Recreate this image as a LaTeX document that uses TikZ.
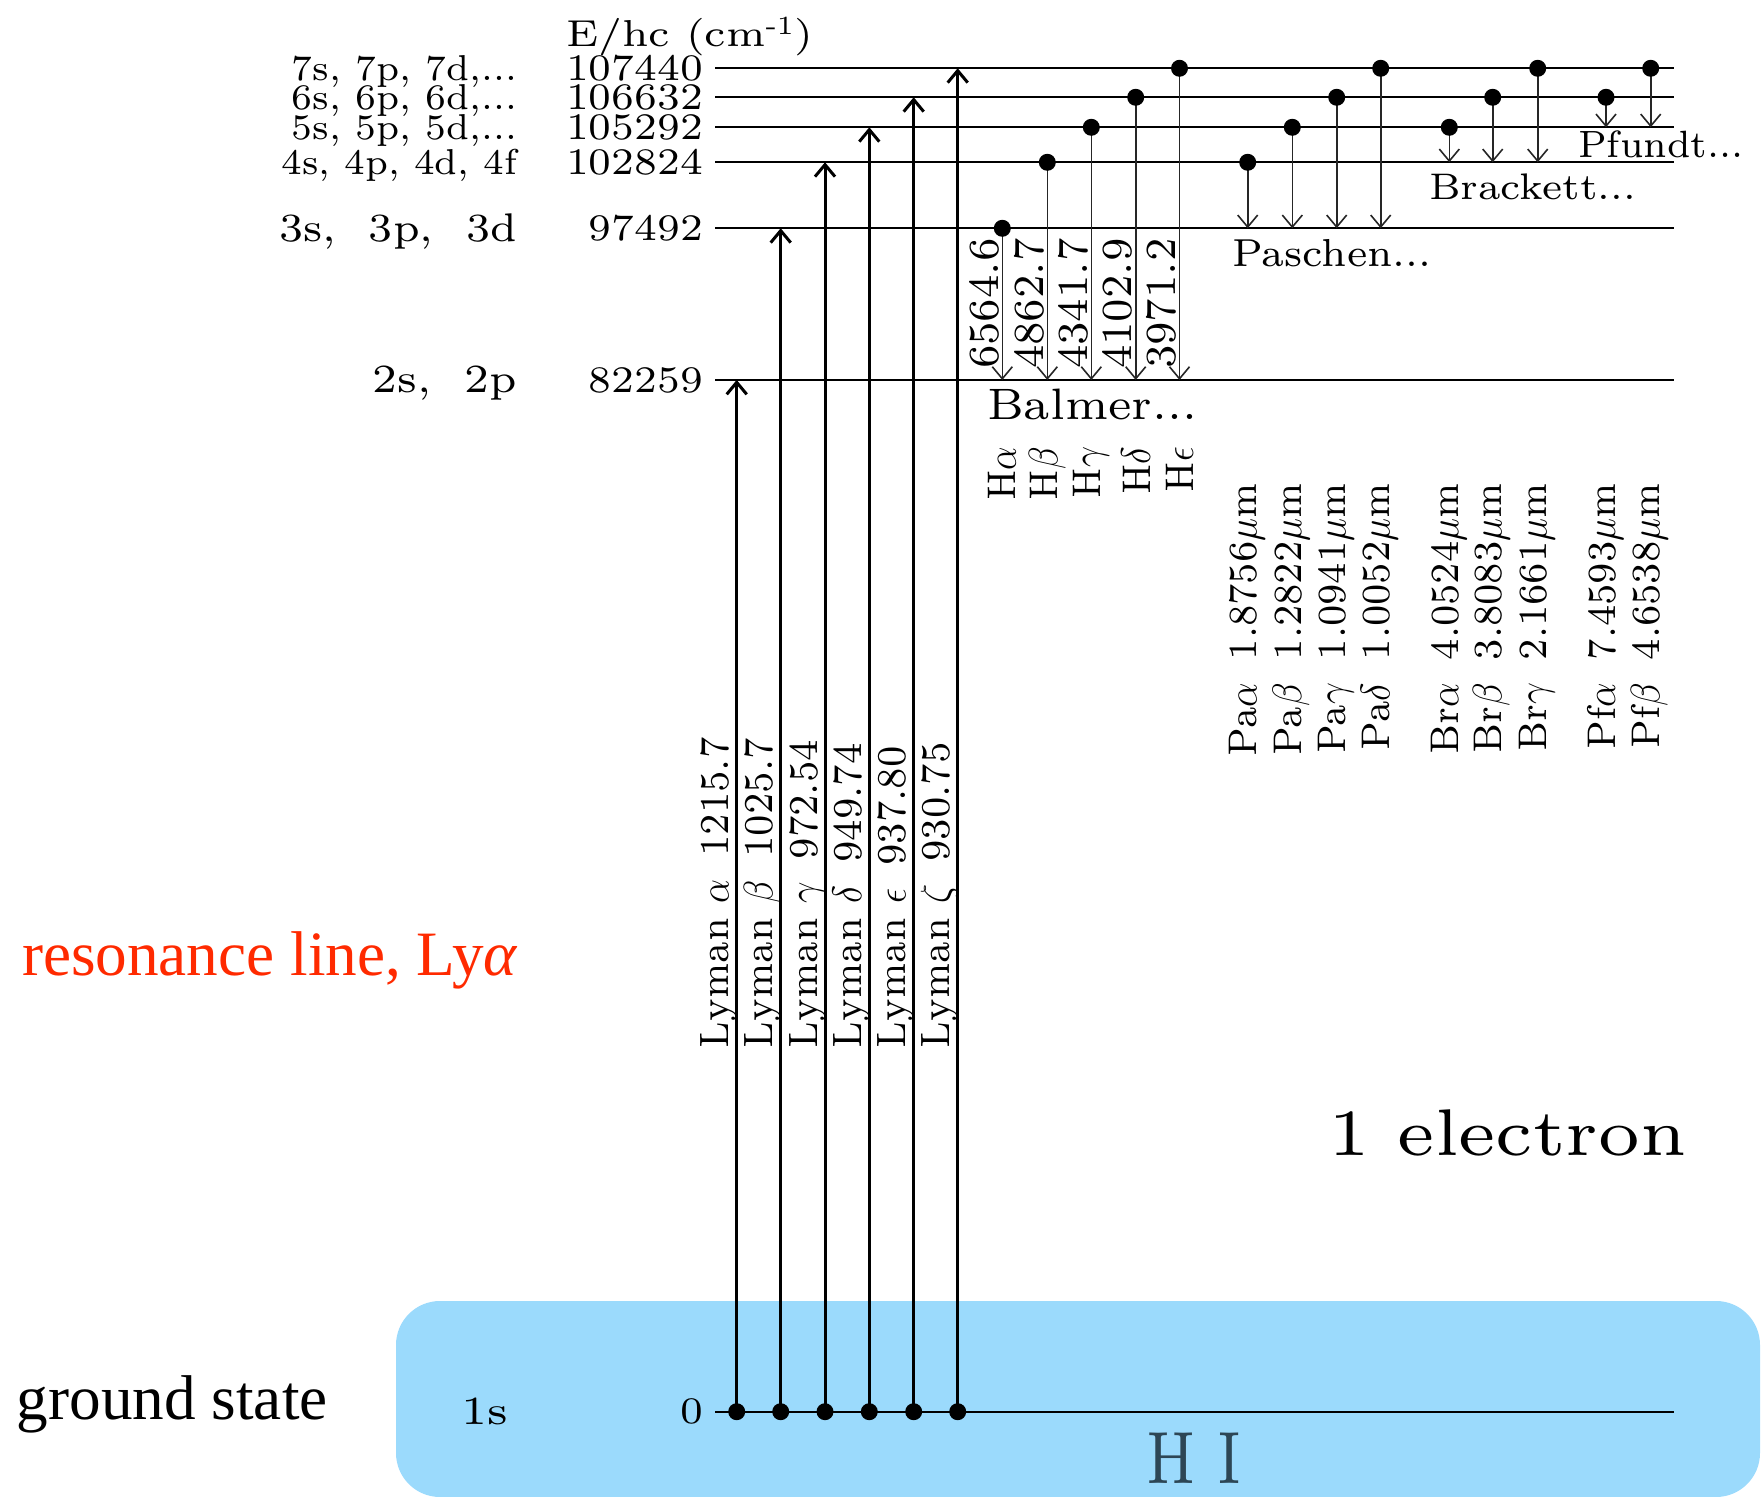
\documentclass[tikz,border=0pt]{standalone}
\usepackage{fontspec}
\usepackage{graphicx}
\usetikzlibrary{arrows.meta}
\setmainfont{lmroman7-regular.otf}
\newfontfamily\timesfont{Liberation Serif}
\newcommand\fsz[1]{\fontsize{#1}{#1}\selectfont}
\newcommand\hsc[2]{\scalebox{#1}[1]{#2}}
\definecolor{boxblue}{RGB}{155,218,252}
\definecolor{resred}{RGB}{255,42,0}
\definecolor{hicol}{RGB}{45,70,85}
\begin{document}
\begin{tikzpicture}[x=0.5pt,y=0.5pt,
  level/.style={line width=0.85pt},
  lyarrow/.style={line width=1.5pt,-{Straight Barb[length=6pt,width=10pt]}},
  thinarrow/.style={line width=0.8pt,black!85,-{Straight Barb[length=6pt,width=10pt]}},
  txt/.style={inner sep=0pt,outer sep=0pt},
  numlab/.style={txt,anchor=base east,font=\fsz{18.75}},
  cfglab/.style={txt,anchor=base east,font=\fsz{18}},
  biglab/.style={txt,anchor=base east,font=\fsz{20}},
  lylab/.style={txt,rotate=90,anchor=base west,font=\fsz{20.5}},
  balab/.style={txt,rotate=90,anchor=base west,font=\fsz{21.5}},
  hlab/.style={txt,rotate=90,anchor=east,font=\fsz{20}},
  irlab/.style={txt,rotate=90,anchor=base east,font=\fsz{20}},
  serlab/.style={txt,anchor=base west},
]
\useasboundingbox (0,0) rectangle (1763,-1497);
\fill[boxblue, rounded corners=22pt] (396,-1301) rectangle (1760,-1497);

% energy levels
\foreach \n/\y in {7/-68.3,6/-97.3,5/-127.3,4/-162.3,3/-228.3,2/-380,1/-1411.7}{
  \coordinate (L\n a) at (715,\y);
  \coordinate (L\n b) at (1674,\y);
  \draw[level] (L\n a) -- (L\n b);
}

% Lyman
\foreach \i/\x/\t in {1/736.7/-380,2/780.7/-228.3,3/825/-162.3,4/869.3/-127.3,5/913.7/-97.3,6/957.7/-68.3}{
  \coordinate (ly\i b) at (\x,-1411.7);
  \coordinate (ly\i t) at (\x,\t);
  \draw[lyarrow] (ly\i b) -- (ly\i t);
  \fill (ly\i b) circle[radius=4.25pt];
}
% Balmer, Paschen, Brackett, Pfund
\foreach \i/\x/\f/\t in {b1/1002.3/-228.3/-380,b2/1047.3/-162.3/-380,b3/1091.3/-127.3/-380,b4/1135.7/-97.3/-380,b5/1179.5/-68.3/-380,
  p1/1247.7/-162.3/-228.3,p2/1292.3/-127.3/-228.3,p3/1336.7/-97.3/-228.3,p4/1380.7/-68.3/-228.3,
  r1/1449.3/-127.3/-162.3,r2/1492.7/-97.3/-162.3,r3/1537.7/-68.3/-162.3,
  f1/1606/-97.3/-127.3,f2/1650.7/-68.3/-127.3}{
  \coordinate (\i u) at (\x,\f);
  \coordinate (\i d) at (\x,\t);
  \draw[thinarrow] (\i u) -- (\i d);
  \fill (\i u) circle[radius=4.25pt];
}

% title and level values
\node[txt,anchor=base west,font=\fsz{18.75}] (title) at (566,-46.7) {\hsc{1.12}{E/hc (cm\textsuperscript{-1})}};
\node[numlab] (n7) at (703,-80.5) {\hsc{1.07}{107440}};
\node[numlab] (n6) at (703,-109.5) {\hsc{1.07}{106632}};
\node[numlab] (n5) at (703,-139.5) {\hsc{1.07}{105292}};
\node[numlab] (n4) at (703,-174.5) {\hsc{1.07}{102824}};
\node[numlab] (n3) at (703,-240.5) {\hsc{1.07}{97492}};
\node[numlab] (n2) at (703,-392.2) {\hsc{1.07}{82259}};
\node[numlab] (n1) at (703,-1423.9) {\hsc{1.07}{0}};

% configurations
\node[cfglab] (c7) at (517,-80.5) {\hsc{1.02}{7s, 7p, 7d,...}};
\node[cfglab] (c6) at (517,-109.5) {\hsc{1.02}{6s, 6p, 6d,...}};
\node[cfglab] (c5) at (517,-139.5) {\hsc{1.02}{5s, 5p, 5d,...}};
\node[cfglab] (c4) at (517,-174.5) {\hsc{1.01}{4s, 4p, 4d, 4f}};
\node[biglab] (c3) at (517,-241.3) {\hsc{1.06}{3s,\ \ 3p,\ \ 3d}};
\node[biglab] (c2) at (517,-393) {\hsc{1.09}{2s,\ \ 2p}};
\node[biglab] (c1) at (508,-1424.7) {\hsc{1.14}{1s}};

% Lyman labels
\node[lylab] (lyl1) at (728.7,-1048) {\hsc{0.92}{Lyman $\alpha$\hspace{0.6em}1215.7}};
\node[lylab] (lyl2) at (772.7,-1048) {\hsc{0.92}{Lyman $\beta$\hspace{0.6em}1025.7}};
\node[lylab] (lyl3) at (817,-1048) {\hsc{0.92}{Lyman $\gamma$\hspace{0.6em}972.54}};
\node[lylab] (lyl4) at (861.3,-1048) {\hsc{0.92}{Lyman $\delta$\hspace{0.6em}949.74}};
\node[lylab] (lyl5) at (905.7,-1048) {\hsc{0.92}{Lyman $\epsilon$\hspace{0.6em}937.80}};
\node[lylab] (lyl6) at (949.7,-1048) {\hsc{0.92}{Lyman $\zeta$\hspace{0.6em}930.75}};

% Balmer labels
\node[balab] (bl1) at (998.3,-369) {\hsc{0.96}{6564.6}};
\node[balab] (bl2) at (1043.3,-369) {\hsc{0.96}{4862.7}};
\node[balab] (bl3) at (1087.3,-369) {\hsc{0.96}{4341.7}};
\node[balab] (bl4) at (1131.7,-369) {\hsc{0.96}{4102.9}};
\node[balab] (bl5) at (1175.5,-369) {\hsc{0.96}{3971.2}};
\node[hlab] (h1) at (1002.3,-447) {\hsc{0.9}{H$\alpha$}};
\node[hlab] (h2) at (1047.3,-447) {\hsc{0.9}{H$\beta$}};
\node[hlab] (h3) at (1091.3,-447) {\hsc{0.9}{H$\gamma$}};
\node[hlab] (h4) at (1135.7,-447) {\hsc{0.9}{H$\delta$}};
\node[hlab] (h5) at (1179.5,-447) {\hsc{0.9}{H$\epsilon$}};

% IR labels
\node[irlab] (pl1) at (1256.7,-483) {\hsc{0.94}{Pa$\alpha$\hspace{0.6em}1.8756$\mu$m}};
\node[irlab] (pl2) at (1301.3,-483) {\hsc{0.94}{Pa$\beta$\hspace{0.6em}1.2822$\mu$m}};
\node[irlab] (pl3) at (1345.7,-483) {\hsc{0.94}{Pa$\gamma$\hspace{0.6em}1.0941$\mu$m}};
\node[irlab] (pl4) at (1389.7,-483) {\hsc{0.94}{Pa$\delta$\hspace{0.6em}1.0052$\mu$m}};
\node[irlab] (rl1) at (1458.3,-483) {\hsc{0.94}{Br$\alpha$\hspace{0.6em}4.0524$\mu$m}};
\node[irlab] (rl2) at (1501.7,-483) {\hsc{0.94}{Br$\beta$\hspace{0.6em}3.8083$\mu$m}};
\node[irlab] (rl3) at (1546.7,-483) {\hsc{0.94}{Br$\gamma$\hspace{0.6em}2.1661$\mu$m}};
\node[irlab] (fl1) at (1615,-483) {\hsc{0.94}{Pf$\alpha$\hspace{0.6em}7.4593$\mu$m}};
\node[irlab] (fl2) at (1659.7,-483) {\hsc{0.94}{Pf$\beta$\hspace{0.6em}4.6538$\mu$m}};

% series names
\node[serlab,font=\fsz{22}] (balmer) at (987,-420) {\hsc{1.05}{Balmer...}};
\node[serlab,font=\fsz{19.5}] (paschen) at (1232,-267) {\hsc{1.03}{Paschen...}};
\node[serlab,font=\fsz{18.5}] (brackett) at (1429,-200) {\hsc{1.07}{Brackett...}};
\node[serlab,font=\fsz{19}] (pfundt) at (1578,-158) {\hsc{0.985}{Pfundt...}};

% other texts
\node[serlab,font=\fsz{33}] (elec) at (1328,-1155) {\hsc{1.11}{1 electron}};
\node[txt,anchor=base,font=\fsz{37},text=hicol] (hi) at (1194,-1483) {\hsc{0.79}{H I}};
\node[serlab,font=\timesfont\fsz{31.6}] (gs) at (17,-1419) {ground state};
\node[serlab,font=\timesfont\fsz{31.6},text=resred] (res) at (22,-975) {resonance line, Ly\textit{α}};
\end{tikzpicture}
\end{document}
